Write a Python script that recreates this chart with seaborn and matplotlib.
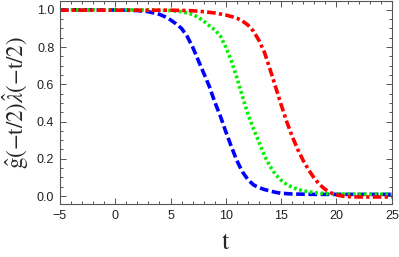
import numpy as np
import pandas as pd
import matplotlib
matplotlib.use("Agg")
import matplotlib.pyplot as plt
import seaborn as sns
from matplotlib.ticker import MultipleLocator

# ---- data ----
t_blue = [-5, -2, 0, 1, 2, 3, 4, 4.5, 5, 5.5, 6, 6.5, 7, 7.5, 8, 8.5, 9, 9.5, 10, 10.5,
          11, 11.5, 12, 12.5, 13, 13.5, 14, 14.5, 15, 16, 17, 18, 20, 22, 25]
v_blue = [1.0, 1.0, 0.999, 0.998, 0.996, 0.99, 0.976, 0.963, 0.946, 0.925, 0.90, 0.858,
          0.80, 0.73, 0.66, 0.59, 0.505, 0.43, 0.345, 0.265, 0.19, 0.13, 0.088, 0.06,
          0.045, 0.035, 0.027, 0.02, 0.015, 0.011, 0.01, 0.009, 0.009, 0.009, 0.009]

t_green = [-5, 0, 3, 4, 5, 6, 6.5, 7, 7.5, 8, 8.5, 9, 9.5, 10, 10.5, 11, 11.5, 12, 12.5,
           13, 13.5, 14, 14.5, 15, 15.5, 16, 16.5, 17, 18, 19, 20, 22, 25]
v_green = [1.0, 1.0, 0.999, 0.998, 0.996, 0.99, 0.983, 0.975, 0.96, 0.94, 0.915, 0.893,
           0.86, 0.80, 0.725, 0.635, 0.535, 0.44, 0.36, 0.29, 0.215, 0.16, 0.115, 0.085,
           0.063, 0.047, 0.036, 0.028, 0.018, 0.013, 0.011, 0.01, 0.01]

t_red = [-5, 0, 5, 6, 7, 8, 9, 10, 10.5, 11, 11.5, 12, 12.5, 13, 13.5, 14, 14.5, 15,
         15.5, 16, 16.5, 17, 17.5, 18, 18.5, 19, 19.5, 20, 20.5, 21, 22, 25]
v_red = [0.998, 0.998, 0.998, 0.997, 0.995, 0.99, 0.983, 0.972, 0.964, 0.955, 0.94,
         0.918, 0.885, 0.835, 0.77, 0.68, 0.585, 0.49, 0.40, 0.32, 0.25, 0.19, 0.139,
         0.095, 0.06, 0.035, 0.017, 0.006, 0.0, -0.003, -0.005, -0.005]

x_ticks = [-5, 0, 5, 10, 15, 20, 25]
y_ticks = [0.0, 0.2, 0.4, 0.6, 0.8, 1.0]

sns.set_style("ticks")
plt.rcParams["font.family"] = ["Liberation Sans", "DejaVu Sans"]
plt.rcParams["mathtext.fontset"] = "stix"

fig = plt.figure(figsize=(3.99, 2.57), dpi=100)
ax = fig.add_axes([0.150, 0.206, 0.832, 0.792])

lw = 2.6
sns.lineplot(x=t_blue, y=v_blue, color="#0000ff", lw=lw, ax=ax)
ax.lines[-1].set_dashes((2.4, 1.0))
ax.lines[-1].set_dash_capstyle("butt")
sns.lineplot(x=t_green, y=v_green, color="#00f000", lw=lw, ax=ax)
ax.lines[-1].set_dashes((0.75, 0.75))
ax.lines[-1].set_dash_capstyle("butt")
sns.lineplot(x=t_red, y=v_red, color="#ff0000", lw=lw, ax=ax)
ax.lines[-1].set_dashes((2.4, 0.9, 0.9, 0.9))
ax.lines[-1].set_dash_capstyle("butt")

ax.set_xlim(-5, 25)
ax.set_ylim(-0.043, 1.05)
ax.set_xticks(x_ticks)
ax.set_yticks(y_ticks)
ax.set_xticklabels([str(v) if v >= 0 else "\u2212" + str(-v) for v in x_ticks])
ax.set_yticklabels([f"{v:.1f}" for v in y_ticks])
ax.xaxis.set_minor_locator(MultipleLocator(1))
ax.yaxis.set_minor_locator(MultipleLocator(0.05))
ax.tick_params(which="both", direction="in", top=True, right=True,
               colors="#555555", labelcolor="#222222", width=0.7)
ax.tick_params(which="major", length=4.0, labelsize=9, pad=4)
ax.tick_params(which="minor", length=2.2)
for s in ax.spines.values():
    s.set_color("#555555")
    s.set_linewidth(0.8)

ax.set_xlabel(r"$\mathrm{t}$", fontsize=19, labelpad=6)
ax.set_ylabel(r"$\hat{\mathrm{g}}(-\mathrm{t}/2)\hat{\lambda}(-\mathrm{t}/2)$",
              fontsize=16.5)
ax.yaxis.set_label_coords(-0.088, 0.5)

fig.savefig("out.png", dpi=100)
